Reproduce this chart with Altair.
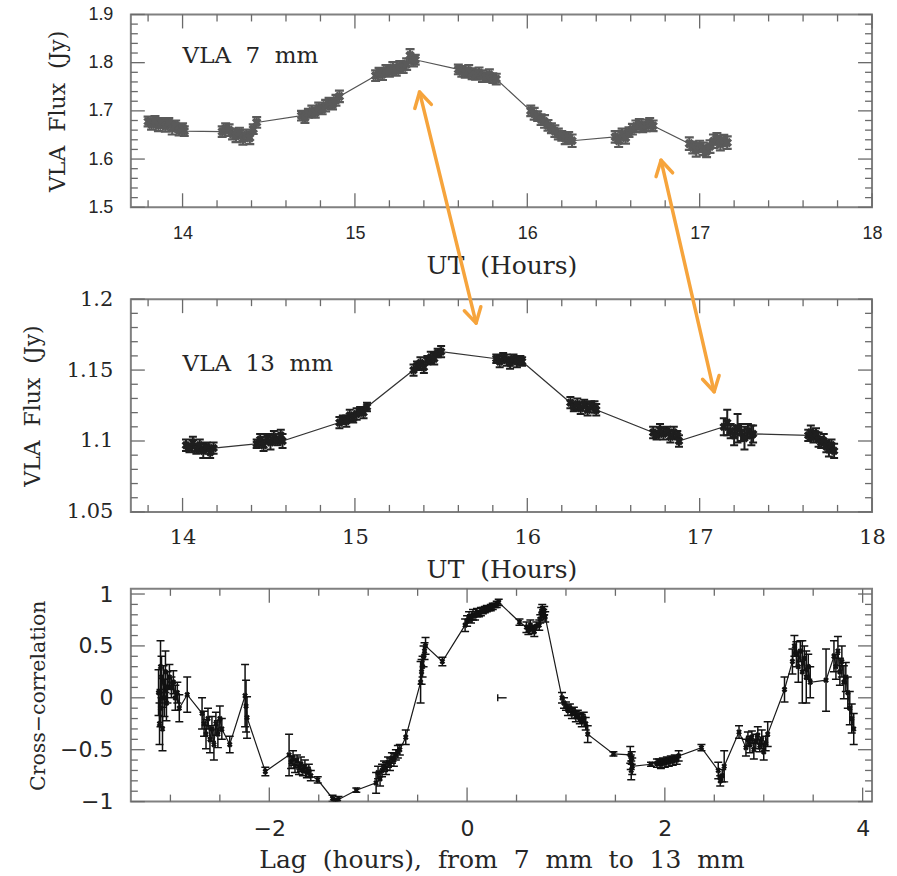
import math
import altair as alt
import pandas as pd

# ---------------- data ----------------
# VLA 7 mm light curve (UT hours, flux Jy, 1-sigma error)
t7 = [13.80, 13.82, 13.84, 13.86, 13.88, 13.90, 13.92, 13.94, 13.96, 13.98, 14.00, 14.01,
      14.23, 14.25, 14.27, 14.29, 14.31, 14.33, 14.35, 14.37, 14.39, 14.41, 14.43,
      14.69, 14.71, 14.73, 14.75, 14.77, 14.79, 14.81, 14.83, 14.85, 14.87, 14.89, 14.91,
      15.12, 15.14, 15.16, 15.18, 15.20, 15.22, 15.24, 15.26, 15.28, 15.30, 15.32, 15.34, 15.35,
      15.60, 15.62, 15.64, 15.66, 15.68, 15.70, 15.72, 15.74, 15.76, 15.78, 15.80, 15.82,
      16.02, 16.04, 16.06, 16.08, 16.10, 16.12, 16.14, 16.16, 16.18, 16.20, 16.22, 16.24, 16.26,
      16.51, 16.53, 16.55, 16.57, 16.59, 16.61, 16.63, 16.65, 16.67, 16.69, 16.71, 16.73,
      16.94, 16.96, 16.98, 17.00, 17.02, 17.04, 17.06, 17.08, 17.10, 17.12, 17.14, 17.16]
f7 = [1.678, 1.672, 1.680, 1.670, 1.675, 1.668, 1.676, 1.664, 1.670, 1.660, 1.665, 1.658,
      1.657, 1.664, 1.660, 1.652, 1.648, 1.655, 1.642, 1.650, 1.644, 1.662, 1.676,
      1.690, 1.686, 1.695, 1.699, 1.696, 1.706, 1.703, 1.711, 1.716, 1.713, 1.722, 1.730,
      1.773, 1.779, 1.776, 1.784, 1.781, 1.789, 1.784, 1.793, 1.790, 1.797, 1.815, 1.803, 1.806,
      1.786, 1.782, 1.779, 1.783, 1.777, 1.775, 1.779, 1.772, 1.770, 1.775, 1.768, 1.766,
      1.700, 1.694, 1.689, 1.682, 1.678, 1.670, 1.664, 1.658, 1.652, 1.648, 1.643, 1.645, 1.638,
      1.646, 1.638, 1.652, 1.644, 1.656, 1.662, 1.668, 1.672, 1.666, 1.670, 1.674, 1.669,
      1.632, 1.624, 1.619, 1.627, 1.621, 1.616, 1.626, 1.637, 1.642, 1.631, 1.639, 1.634]
e7 = [0.010, 0.011, 0.009, 0.012, 0.010, 0.011, 0.009, 0.013, 0.010, 0.011, 0.009, 0.010,
      0.011, 0.010, 0.012, 0.011, 0.013, 0.010, 0.012, 0.011, 0.013, 0.010, 0.011,
      0.010, 0.011, 0.009, 0.012, 0.010, 0.011, 0.010, 0.012, 0.011, 0.010, 0.011, 0.012,
      0.011, 0.010, 0.012, 0.011, 0.010, 0.012, 0.011, 0.010, 0.011, 0.012, 0.013, 0.011, 0.010,
      0.010, 0.011, 0.010, 0.012, 0.011, 0.010, 0.011, 0.012, 0.010, 0.011, 0.010, 0.011,
      0.011, 0.012, 0.010, 0.011, 0.013, 0.011, 0.010, 0.012, 0.011, 0.010, 0.012, 0.011, 0.013,
      0.012, 0.013, 0.011, 0.012, 0.010, 0.011, 0.012, 0.011, 0.010, 0.012, 0.011, 0.011,
      0.013, 0.012, 0.014, 0.011, 0.013, 0.012, 0.013, 0.014, 0.012, 0.013, 0.011, 0.013]

# VLA 13 mm light curve
t13 = [14.02, 14.04, 14.06, 14.08, 14.10, 14.12, 14.14, 14.16, 14.18,
       14.43, 14.45, 14.47, 14.49, 14.51, 14.53, 14.55, 14.57, 14.58,
       14.91, 14.93, 14.95, 14.97, 14.99, 15.01, 15.03, 15.05, 15.07,
       15.34, 15.36, 15.38, 15.40, 15.42, 15.44, 15.46, 15.48, 15.50,
       15.82, 15.84, 15.86, 15.88, 15.90, 15.92, 15.94, 15.96, 15.97,
       16.25, 16.27, 16.29, 16.31, 16.33, 16.35, 16.37, 16.39, 16.40,
       16.73, 16.75, 16.77, 16.79, 16.81, 16.83, 16.85, 16.87, 16.88,
       17.14, 17.16, 17.18, 17.20, 17.22, 17.24, 17.26, 17.28, 17.30, 17.31,
       17.63, 17.645, 17.66, 17.675, 17.69, 17.705, 17.72, 17.735, 17.75, 17.765, 17.78]
f13 = [1.097, 1.095, 1.099, 1.094, 1.097, 1.093, 1.096, 1.092, 1.095,
       1.098, 1.101, 1.097, 1.102, 1.099, 1.103, 1.100, 1.104, 1.100,
       1.113, 1.115, 1.114, 1.118, 1.116, 1.119, 1.121, 1.120, 1.124,
       1.150, 1.153, 1.155, 1.152, 1.157, 1.159, 1.158, 1.162, 1.163,
       1.158, 1.156, 1.159, 1.157, 1.155, 1.158, 1.156, 1.157, 1.156,
       1.127, 1.124, 1.126, 1.123, 1.126, 1.122, 1.125, 1.124, 1.122,
       1.106, 1.104, 1.108, 1.105, 1.107, 1.103, 1.106, 1.104, 1.100,
       1.110, 1.113, 1.107, 1.104, 1.109, 1.106, 1.102, 1.107, 1.104, 1.105,
       1.104, 1.106, 1.103, 1.105, 1.101, 1.099, 1.100, 1.096, 1.094, 1.097, 1.093]
e13 = [0.004, 0.003, 0.004, 0.003, 0.004, 0.005, 0.003, 0.004, 0.004,
       0.003, 0.004, 0.004, 0.003, 0.005, 0.004, 0.003, 0.004, 0.005,
       0.004, 0.003, 0.004, 0.004, 0.003, 0.004, 0.003, 0.004, 0.003,
       0.004, 0.003, 0.004, 0.004, 0.003, 0.004, 0.004, 0.003, 0.004,
       0.003, 0.004, 0.003, 0.004, 0.004, 0.003, 0.004, 0.003, 0.003,
       0.004, 0.003, 0.004, 0.004, 0.003, 0.004, 0.003, 0.004, 0.004,
       0.004, 0.003, 0.004, 0.004, 0.003, 0.004, 0.004, 0.003, 0.004,
       0.006, 0.009, 0.005, 0.007, 0.010, 0.006, 0.008, 0.005, 0.007, 0.006,
       0.004, 0.005, 0.004, 0.004, 0.005, 0.004, 0.005, 0.004, 0.005, 0.004, 0.005]

# cross-correlation vs lag (hours)
lag = [-3.12, -3.11, -3.10, -3.10, -3.09, -3.08, -3.07, -3.06, -3.05, -3.04, -3.03,
       -3.01, -2.99, -2.97, -2.95, -2.93, -2.91,
       -2.83,
       -2.68, -2.66, -2.64, -2.62, -2.60, -2.58, -2.56, -2.54, -2.52, -2.50, -2.48,
       -2.40,
       -2.245, -2.235, -2.225,
       -2.04,
       -1.80, -1.78, -1.76, -1.74, -1.72, -1.70, -1.68, -1.66, -1.64, -1.62, -1.60, -1.58,
       -1.51,
       -1.36, -1.33, -1.30,
       -1.12,
       -0.92, -0.90, -0.88, -0.86, -0.84, -0.82, -0.80, -0.78, -0.76, -0.74, -0.72, -0.70, -0.68,
       -0.62,
       -0.47, -0.46, -0.45, -0.44, -0.43, -0.42,
       -0.25,
       -0.02, 0.00, 0.02, 0.04, 0.06, 0.08, 0.10, 0.12, 0.14,
       0.16, 0.18, 0.20, 0.22, 0.24, 0.26, 0.28, 0.30, 0.32,
       0.53,
       0.60, 0.62, 0.64, 0.66, 0.68, 0.70,
       0.73, 0.74, 0.75, 0.76, 0.77, 0.78, 0.79,
       0.96,
       0.98, 1.00, 1.02, 1.04, 1.06, 1.08, 1.10, 1.12, 1.14, 1.16, 1.18, 1.20,
       1.22,
       1.48,
       1.65, 1.655, 1.66, 1.665, 1.67,
       1.86,
       1.92, 1.94, 1.96, 1.98, 2.00, 2.02, 2.04, 2.06, 2.08, 2.10, 2.12, 2.14,
       2.37,
       2.54, 2.56, 2.58, 2.60,
       2.75,
       2.82, 2.84, 2.86, 2.88, 2.90, 2.92, 2.94, 2.96, 2.98, 3.00, 3.02, 3.04,
       3.21,
       3.29, 3.31, 3.33, 3.35, 3.37, 3.39, 3.41, 3.43, 3.45, 3.47,
       3.63,
       3.71, 3.73, 3.75, 3.77, 3.79, 3.81, 3.83, 3.85, 3.87, 3.89, 3.91]
ccf = [0.05, -0.25, 0.30, -0.10, 0.20, -0.30, 0.15, 0.00, 0.25, -0.05, 0.10,
       0.20, 0.10, 0.15, 0.00, 0.05, -0.10,
       0.03,
       -0.15, -0.25, -0.35, -0.20, -0.40, -0.30, -0.45, -0.25, -0.35, -0.20, -0.30,
       -0.45,
       0.02, -0.08, -0.19,
       -0.71,
       -0.55, -0.62, -0.58, -0.66, -0.60, -0.68, -0.64, -0.70, -0.66, -0.72, -0.70, -0.75,
       -0.79,
       -0.97, -0.99, -0.98,
       -0.89,
       -0.82, -0.72, -0.78, -0.70, -0.66, -0.68, -0.62, -0.64, -0.58, -0.60, -0.55, -0.52, -0.50,
       -0.38,
       0.15, 0.25, 0.30, 0.40, 0.45, 0.50,
       0.35,
       0.70, 0.74, 0.78, 0.76, 0.80, 0.79, 0.82, 0.81, 0.83,
       0.84, 0.85, 0.86, 0.86, 0.87, 0.88, 0.89, 0.90, 0.92,
       0.73,
       0.68, 0.65, 0.70, 0.66, 0.64, 0.69,
       0.70, 0.76, 0.82, 0.86, 0.80, 0.84, 0.78,
       0.00,
       -0.05, -0.08, -0.12, -0.10, -0.15, -0.13, -0.18, -0.16, -0.20, -0.22, -0.19, -0.25,
       -0.35,
       -0.54,
       -0.55, -0.62, -0.70, -0.58, -0.66,
       -0.64,
       -0.63, -0.62, -0.64, -0.61, -0.63, -0.60, -0.62, -0.59, -0.61, -0.58, -0.60, -0.56,
       -0.48,
       -0.70, -0.80, -0.75, -0.66,
       -0.33,
       -0.48, -0.40, -0.45, -0.38, -0.50, -0.42, -0.36, -0.46, -0.40, -0.52, -0.44, -0.35,
       0.08,
       0.35, 0.50, 0.42, 0.30, 0.45, 0.25, 0.38, 0.20, 0.30, 0.15,
       0.17,
       0.40, 0.30, 0.45, 0.25, 0.35, 0.15, 0.20, 0.05, -0.10, -0.20, -0.30]
eccf = [0.22, 0.20, 0.25, 0.18, 0.20, 0.21, 0.16, 0.18, 0.20, 0.17, 0.15,
        0.12, 0.10, 0.11, 0.12, 0.10, 0.13,
        0.17,
        0.15, 0.12, 0.14, 0.10, 0.13, 0.12, 0.15, 0.11, 0.13, 0.12, 0.10,
        0.08,
        0.30, 0.25, 0.20,
        0.04,
        0.20, 0.06, 0.07, 0.06, 0.05, 0.06, 0.07, 0.05, 0.06, 0.05, 0.06, 0.05,
        0.03,
        0.03, 0.02, 0.03,
        0.02,
        0.10, 0.06, 0.07, 0.06, 0.05, 0.06, 0.05, 0.06, 0.05, 0.06, 0.05, 0.06, 0.05,
        0.07,
        0.20, 0.12, 0.10, 0.10, 0.08, 0.08,
        0.04,
        0.06, 0.05, 0.05, 0.04, 0.05, 0.04, 0.04, 0.03, 0.04,
        0.03, 0.03, 0.03, 0.02, 0.03, 0.03, 0.02, 0.03, 0.03,
        0.03,
        0.05, 0.04, 0.05, 0.04, 0.05, 0.04,
        0.05, 0.04, 0.05, 0.04, 0.05, 0.04, 0.05,
        0.05,
        0.05, 0.04, 0.05, 0.04, 0.05, 0.04, 0.05, 0.04, 0.05, 0.06, 0.05, 0.06,
        0.08,
        0.02,
        0.08, 0.07, 0.09, 0.06, 0.08,
        0.02,
        0.04, 0.03, 0.04, 0.03, 0.04, 0.03, 0.04, 0.03, 0.04, 0.03, 0.04, 0.05,
        0.03,
        0.08, 0.05, 0.06, 0.15,
        0.06,
        0.08, 0.07, 0.08, 0.06, 0.09, 0.07, 0.08, 0.06, 0.09, 0.08, 0.07, 0.12,
        0.12,
        0.12, 0.10, 0.12, 0.15, 0.10, 0.30, 0.12, 0.25, 0.12, 0.15,
        0.30,
        0.15, 0.12, 0.14, 0.13, 0.15, 0.16, 0.14, 0.15, 0.16, 0.14, 0.15]

# lone marker with horizontal error bar
lone_lag_lo = [0.31]
lone_lag_hi = [0.40]
lone_cc = [0.0]

# tick values
ut_major = [14, 15, 16, 17, 18]
ut_minor = [v for v in (round(13.8 + 0.2 * i, 2) for i in range(22)) if abs(v - round(v)) > 1e-6]
f7_major = [1.5, 1.6, 1.7, 1.8, 1.9]
f7_minor = [v for v in (round(1.5 + 0.02 * i, 2) for i in range(21)) if abs(v * 10 - round(v * 10)) > 1e-6]
f13_major = [1.05, 1.1, 1.15, 1.2]
f13_minor = [v for v in (round(1.05 + 0.01 * i, 2) for i in range(16)) if abs(v * 20 - round(v * 20)) > 1e-6]
lag_major = [-2, 0, 2, 4]
lag_minor = [-3, -2.5, -1.5, -1, -0.5, 0.5, 1, 1.5, 2.5, 3, 3.5]
cc_major = [-1, -0.5, 0, 0.5, 1]
cc_minor = [v for v in (round(-1 + 0.1 * i, 1) for i in range(21)) if abs(v * 2 - round(v * 2)) > 1e-6]

# frame of the 13 mm panel (UT range, flux range)
frame13_x = [13.7, 18.0]
frame13_y = [1.05, 1.2]

# annotation arrows (in 13 mm panel coordinates: UT, flux)
arrow_x0 = [15.375, 16.776]
arrow_y0 = [1.346, 1.2979]
arrow_x1 = [15.703, 17.084]
arrow_y1 = [1.1831, 1.1347]

NB = "\u00a0"
labels7 = ["VLA" + NB * 2 + "7" + NB * 2 + "mm"]
labels13 = ["VLA" + NB * 2 + "13" + NB * 2 + "mm"]
title_ut = "UT" + NB + " (Hours)"
title_lag = NB.join(["Lag ", "(hours), ", "from ", "7 ", "mm ", "to ", "13 ", "mm"])
title_flux = "VLA" + NB + " Flux" + NB + " (Jy)"
title_cc = "Cross\u2212correlation"

# ---------------- layout / style ----------------
W = 742
H_TOP, H_MID, H_BOT = 193, 213, 213
MID_GAP = 15                      # extra room above the 13 mm frame
FRAME = "#808080"
TICK = "#6a6a6a"
ORANGE = "#F6A43C"
TXT = "#262626"

xs_ut = alt.Scale(domain=[13.7, 18.0], nice=False, zero=False)
ys_7 = alt.Scale(domain=[1.5, 1.9], nice=False, zero=False)
ys_13 = alt.Scale(domain=[1.05, 1.2 + MID_GAP / H_MID * 0.15], nice=False, zero=False)
xs_lag = alt.Scale(domain=[-3.4, 4.095], nice=False, zero=False)
ys_cc = alt.Scale(domain=[-1.0, 1.05], nice=False, zero=False)


def tick_layers(xs, ys, xmaj, xmin, ymaj, ymin, H, top=0):
    out = []
    for vals, L in ((xmaj, 14), (xmin, 7)):
        src = alt.Chart(pd.DataFrame({"p": vals})).mark_rule(color=TICK, strokeWidth=1.3)
        X = alt.X("p:Q", scale=xs)
        out.append(src.encode(x=X, y=alt.value(H + top), y2=alt.value(H + top - L)))
        out.append(src.encode(x=X, y=alt.value(top), y2=alt.value(top + L)))
    for vals, L in ((ymaj, 14), (ymin, 7)):
        src = alt.Chart(pd.DataFrame({"p": vals})).mark_rule(color=TICK, strokeWidth=1.3)
        Y = alt.Y("p:Q", scale=ys)
        out.append(src.encode(y=Y, x=alt.value(0), x2=alt.value(L)))
        out.append(src.encode(y=Y, x=alt.value(W), x2=alt.value(W - L)))
    return out


def x_axis(values, fmt, font, size, pad, title):
    return alt.Axis(values=values, format=fmt, ticks=False, tickSize=0, domain=False, grid=False,
                    labelFont=font, labelFontSize=size, labelColor=TXT, labelPadding=pad,
                    labelFlush=False, labelOverlap=False,
                    title=title, titleFont="DejaVu Serif", titleFontSize=25,
                    titleFontWeight="normal", titleColor=TXT, titleY=66,
                    titleBaseline="alphabetic")


def y_axis(values, fmt, font, size, title, title_x, title_y, tsize=22):
    return alt.Axis(values=values, format=fmt, ticks=False, tickSize=0, domain=False, grid=False,
                    labelFont=font, labelFontSize=size, labelColor=TXT, labelPadding=18,
                    labelFlush=False, labelOverlap=False,
                    title=title, titleFont="DejaVu Serif", titleFontSize=tsize,
                    titleFontWeight="normal", titleColor=TXT, titleX=title_x, titleY=title_y,
                    titleBaseline="alphabetic")


def series_layers(df, xs, ys, color, line_color, xaxis, yaxis, msize, cap, ew):
    base = alt.Chart(df)
    X = alt.X("x:Q", scale=xs, axis=xaxis)
    Y = alt.Y("y:Q", scale=ys, axis=yaxis)
    Xn = alt.X("x:Q", scale=xs)
    line = base.mark_line(color=line_color, strokeWidth=1.2, clip=True).encode(
        x=X, y=Y, order="i:Q")
    eb = base.transform_calculate(lo="datum.y - datum.e", hi="datum.y + datum.e")
    bars = eb.mark_rule(color=color, strokeWidth=ew, clip=True).encode(
        x=Xn, y=alt.Y("lo:Q", scale=ys), y2="hi:Q")
    cap_lo = eb.mark_tick(orient="horizontal", size=cap, thickness=ew, color=color,
                          opacity=1, clip=True).encode(x=Xn, y=alt.Y("lo:Q", scale=ys))
    cap_hi = eb.mark_tick(orient="horizontal", size=cap, thickness=ew, color=color,
                          opacity=1, clip=True).encode(x=Xn, y=alt.Y("hi:Q", scale=ys))
    pts = base.mark_point(shape="cross", angle=45, filled=True, size=msize, color=color,
                          opacity=1, clip=True).encode(x=Xn, y=alt.Y("y:Q", scale=ys))
    return [line, bars, cap_lo, cap_hi, pts]


def label_layer(xs, ys, x, y, texts):
    return alt.Chart(pd.DataFrame({"x": [x], "y": [y], "s": texts})).mark_text(
        align="left", baseline="alphabetic", font="DejaVu Serif", fontSize=23, color=TXT
    ).encode(x=alt.X("x:Q", scale=xs), y=alt.Y("y:Q", scale=ys), text="s:N")


df7 = pd.DataFrame({"x": t7, "y": f7, "e": e7, "i": range(len(t7))})
df13 = pd.DataFrame({"x": t13, "y": f13, "e": e13, "i": range(len(t13))})
dfcc = pd.DataFrame({"x": lag, "y": ccf, "e": eccf, "i": range(len(lag))})

# --- top panel ---
top = alt.layer(
    *series_layers(df7, xs_ut, ys_7, "#5a5a5a", "#555555",
                   x_axis(ut_major, "d", "Liberation Sans", 18, 17, title_ut),
                   y_axis(f7_major, ".1f", "Liberation Sans", 18, title_flux, -66, H_TOP / 2),
                   95, 9, 2.2),
    *tick_layers(xs_ut, ys_7, ut_major, ut_minor, f7_major, f7_minor, H_TOP),
    label_layer(xs_ut, ys_7, 14.0, 1.80, labels7),
).properties(width=W, height=H_TOP)

# --- middle panel (with the orange arrows) ---
px_x = W / (18.0 - 13.7)
px_y = H_MID / (1.2 - 1.05)
head_x, head_y, head_a = [], [], []
for x0, y0, x1, y1 in zip(arrow_x0, arrow_y0, arrow_x1, arrow_y1):
    dx = (x1 - x0) * px_x
    dy = (y0 - y1) * px_y
    n = math.hypot(dx, dy)
    ux, uy = dx / n, dy / n
    head_x += [x0, x1]
    head_y += [y0, y1]
    head_a += [math.degrees(math.atan2(-ux, uy)) % 360, math.degrees(math.atan2(ux, -uy)) % 360]

frame13 = alt.Chart(pd.DataFrame({"x0": [frame13_x[0]], "x1": [frame13_x[1]],
                                  "y0": [frame13_y[0]], "y1": [frame13_y[1]]})).mark_rect(
    fill="transparent", stroke=FRAME, strokeWidth=2).encode(
    x=alt.X("x0:Q", scale=xs_ut), x2="x1:Q", y=alt.Y("y0:Q", scale=ys_13), y2="y1:Q")

shafts = alt.Chart(pd.DataFrame({"x0": arrow_x0, "y0": arrow_y0, "x1": arrow_x1, "y1": arrow_y1})
                   ).mark_rule(color=ORANGE, strokeWidth=3.5, strokeCap="round").encode(
    x=alt.X("x0:Q", scale=xs_ut), y=alt.Y("y0:Q", scale=ys_13), x2="x1:Q", y2="y1:Q")
heads = alt.Chart(pd.DataFrame({"x": head_x, "y": head_y, "a": head_a})).mark_point(
    shape="M-0.5,0.87L0,0L0.5,0.87", filled=False, strokeWidth=3.5, size=1156,
    color=ORANGE, opacity=1, strokeCap="round", strokeJoin="round"
).encode(x=alt.X("x:Q", scale=xs_ut), y=alt.Y("y:Q", scale=ys_13),
         angle=alt.Angle("a:Q", scale=None))

mid = alt.layer(
    *series_layers(df13, xs_ut, ys_13, "#1e1e1e", "#333333",
                   x_axis(ut_major, "d", "DejaVu Serif", 21, 15, title_ut),
                   y_axis(f13_major, "~g", "DejaVu Serif", 21, title_flux, -91,
                          MID_GAP + H_MID / 2),
                   80, 8, 2.0),
    frame13,
    *tick_layers(xs_ut, ys_13, ut_major, ut_minor, f13_major, f13_minor, H_MID, MID_GAP),
    label_layer(xs_ut, ys_13, 14.0, 1.149, labels13),
    shafts, heads,
).properties(width=W, height=H_MID + MID_GAP,
             view=alt.ViewBackground(stroke="transparent"))

# --- bottom panel ---
lone = pd.DataFrame({"lo": lone_lag_lo, "hi": lone_lag_hi, "y": lone_cc})
lone_bar = alt.Chart(lone).mark_rule(color="#111111", strokeWidth=1.4).encode(
    x=alt.X("lo:Q", scale=xs_lag), x2="hi:Q", y=alt.Y("y:Q", scale=ys_cc))
lone_cap = alt.Chart(lone).mark_tick(orient="vertical", size=7, thickness=1.4,
                                     color="#111111", opacity=1).encode(
    x=alt.X("lo:Q", scale=xs_lag), y=alt.Y("y:Q", scale=ys_cc))

bot = alt.layer(
    *series_layers(dfcc, xs_lag, ys_cc, "#111111", "#1a1a1a",
                   x_axis(lag_major, "~g", "DejaVu Sans", 22, 17, title_lag),
                   y_axis(cc_major, "~g", "DejaVu Sans", 22, title_cc, -86, H_BOT / 2, 20.5),
                   34, 8, 1.5),
    *tick_layers(xs_lag, ys_cc, lag_major, lag_minor, cc_major, cc_minor, H_BOT),
    lone_bar, lone_cap,
).properties(width=W, height=H_BOT)

chart = alt.vconcat(top, mid, bot, spacing=77, bounds="flush").properties(
    padding={"left": 20, "top": 4, "right": 10, "bottom": 2},
    background="white",
).configure_view(stroke=FRAME, strokeWidth=2)

chart.save("out.html", embed_options={"renderer": "svg", "actions": False})
